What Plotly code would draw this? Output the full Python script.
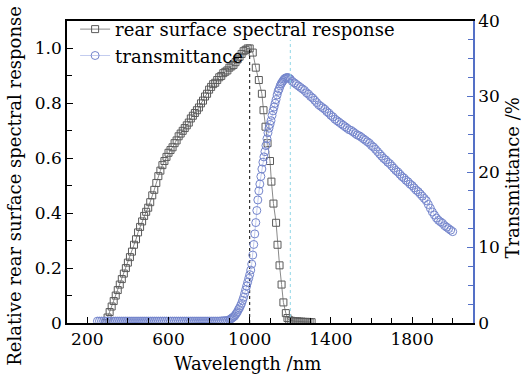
import plotly.graph_objects as go

# ---------------- data ----------------
resp_wl = [290, 300, 310, 320, 330, 340, 350, 360, 370, 380, 390, 400, 410, 420, 430, 440,
           450, 460, 470, 480, 490, 500, 510, 520, 530, 540, 550, 560, 570, 580, 590, 600,
           610, 620, 630, 640, 650, 660, 670, 680, 690, 700, 710, 720, 730, 740, 750, 760,
           770, 780, 790, 800, 810, 820, 830, 840, 850, 860, 870, 880, 890, 900, 910, 920,
           930, 940, 950, 960, 970, 980, 990, 1000,
           1015, 1030, 1045, 1060, 1068, 1078, 1088, 1100, 1107, 1117, 1130, 1137, 1147,
           1157, 1166, 1178, 1186,
           1195, 1205, 1215, 1225, 1235, 1245, 1255, 1265, 1275, 1285, 1295, 1305]
resp_val = [0.00, 0.02, 0.04, 0.06, 0.08, 0.10, 0.12, 0.14, 0.16, 0.18, 0.20, 0.22, 0.24, 0.26,
            0.285, 0.305, 0.33, 0.35, 0.37, 0.39, 0.405, 0.42, 0.44, 0.465, 0.485, 0.51, 0.535,
            0.555, 0.575, 0.59, 0.605, 0.62, 0.63, 0.64, 0.655, 0.665, 0.68, 0.69, 0.70, 0.71,
            0.72, 0.73, 0.745, 0.755, 0.765, 0.775, 0.785, 0.80, 0.81, 0.825, 0.835, 0.85,
            0.86, 0.87, 0.875, 0.885, 0.895, 0.90, 0.91, 0.915, 0.92, 0.93, 0.935, 0.94, 0.95,
            0.96, 0.97, 0.98, 0.99, 0.995, 1.00, 1.00,
            0.985, 0.93, 0.885, 0.835, 0.775, 0.715, 0.655, 0.59, 0.515, 0.435, 0.365, 0.285,
            0.21, 0.14, 0.075, 0.036, 0.018,
            0.010, 0.008, 0.007, 0.006, 0.006, 0.005, 0.005, 0.004, 0.004, 0.004, 0.003, 0.003]

trans_wl = [250, 260, 270, 280, 290, 300, 310, 320, 330, 340, 350, 360, 370, 380, 390, 400,
            410, 420, 430, 440, 450, 460, 470, 480, 490, 500, 510, 520, 530, 540, 550, 560,
            570, 580, 590, 600, 610, 620, 630, 640, 650, 660, 670, 680, 690, 700, 710, 720,
            730, 740, 750, 760, 770, 780, 790, 800, 810, 820, 830, 840, 850, 860, 870, 880, 890,
            900, 905, 910, 915, 920, 925, 930, 935, 940, 945, 950, 955, 960, 965, 970, 975,
            980, 985, 990, 995, 1000, 1005, 1010, 1015, 1020, 1025, 1030, 1035, 1040, 1045,
            1050, 1055, 1060, 1065, 1070, 1075, 1080, 1085, 1090, 1095, 1100, 1105, 1110,
            1115, 1120, 1125, 1130, 1135, 1140, 1145, 1150, 1155, 1160, 1165, 1170, 1175,
            1180, 1185, 1190, 1195, 1200,
            1210, 1220, 1230, 1240, 1250, 1260, 1270, 1280, 1290, 1300, 1310, 1320, 1330,
            1340, 1350, 1360, 1370, 1380, 1390, 1400, 1410, 1420, 1430, 1440, 1450, 1460,
            1470, 1480, 1490, 1500, 1510, 1520, 1530, 1540, 1550, 1560, 1570, 1580, 1590,
            1600, 1610, 1620, 1630, 1640, 1650, 1660, 1670, 1680, 1690, 1700, 1710, 1720,
            1730, 1740, 1750, 1760, 1770, 1780, 1790, 1800, 1810, 1820, 1830, 1840, 1850,
            1860, 1870, 1880, 1890, 1900, 1910, 1920, 1930, 1940, 1950, 1960, 1970, 1980,
            1990, 2000]
trans_val = [0.25, 0.25, 0.25, 0.25, 0.25, 0.25, 0.25, 0.25, 0.25, 0.25, 0.25, 0.25, 0.25,
             0.25, 0.25, 0.25, 0.25, 0.25, 0.25, 0.25, 0.25, 0.25, 0.25, 0.25, 0.25, 0.25,
             0.25, 0.25, 0.25, 0.25, 0.25, 0.25, 0.25, 0.25, 0.25, 0.25, 0.25, 0.25, 0.25,
             0.25, 0.25, 0.25, 0.25, 0.25, 0.25, 0.25, 0.25, 0.25, 0.25, 0.25, 0.25, 0.25,
             0.25, 0.25, 0.25, 0.25, 0.25, 0.25, 0.25, 0.25, 0.25, 0.28, 0.30, 0.32, 0.35,
             0.4, 0.5, 0.6, 0.7, 0.8, 0.9, 1.1, 1.3, 1.5, 1.8, 2.0, 2.3, 2.6, 3.0, 3.4, 3.9,
             4.4, 4.9, 5.4, 5.9, 6.4, 7.0, 7.8, 9.0, 10.4, 11.8, 13.3, 14.9, 16.3, 17.5,
             18.4, 19.4, 20.4, 21.3, 22.0, 22.7, 23.5, 24.4, 25.2, 25.8, 26.3, 26.8, 27.5,
             28.1, 28.6, 29.1, 29.6, 30.2, 30.7, 31.0, 31.4, 31.7, 31.9, 32.1, 32.3, 32.4,
             32.5, 32.5, 32.5, 32.4, 32.3,
             32.0, 31.8, 31.6, 31.4, 31.2, 31.0, 30.8, 30.5, 30.3, 30.0, 29.8, 29.5, 29.2,
             28.9, 28.7, 28.5, 28.3, 28.0, 27.8, 27.5, 27.3, 27.0, 26.8, 26.6, 26.4, 26.2,
             26.0, 25.8, 25.6, 25.5, 25.3, 25.1, 24.9, 24.8, 24.6, 24.4, 24.2, 24.0, 23.8,
             23.5, 23.3, 23.0, 22.7, 22.4, 22.1, 21.8, 21.6, 21.3, 21.1, 20.8, 20.5, 20.2,
             20.0, 19.7, 19.4, 19.2, 18.9, 18.7, 18.4, 18.2, 17.9, 17.6, 17.4, 17.1, 16.8,
             16.5, 16.2, 15.7, 15.2, 14.7, 14.3, 13.9, 13.6, 13.4, 13.2, 12.9, 12.7, 12.5,
             12.3, 12.1]

peak_wl = [1000, 1000]
peak_y = [0, 1.0]
trans_peak_wl = [1200, 1200]
trans_peak_y = [0, 37.5]

x_tickvals = [200, 600, 1000, 1400, 1800]
y_tickvals = [0, 0.2, 0.4, 0.6, 0.8, 1.0]
y_ticktext = ["0", "0.2", "0.4", "0.6", "0.8", "1.0"]
y2_tickvals = [0, 10, 20, 30, 40]

FONT = "DejaVu Serif"
BLUE_AXIS = "#5470c6"
CIRCLE = "#7485cc"
SQUARE = "#5a5a5a"

fig = go.Figure()

fig.add_trace(go.Scatter(
    x=resp_wl, y=resp_val, mode="lines+markers", name="rear surface spectral response",
    line=dict(color="#8a8a8a", width=1),
    marker=dict(symbol="square-open", size=7, color=SQUARE, line=dict(width=1)),
))
fig.add_trace(go.Scatter(
    x=trans_wl, y=trans_val, yaxis="y2", mode="lines+markers", name="transmittance",
    line=dict(color="#c3ccef", width=1),
    marker=dict(symbol="circle-open", size=8, color=CIRCLE, line=dict(width=1)),
))
fig.add_trace(go.Scatter(
    x=peak_wl, y=peak_y, mode="lines", showlegend=False,
    line=dict(color="black", width=1, dash="dot"),
))
fig.add_trace(go.Scatter(
    x=trans_peak_wl, y=trans_peak_y, yaxis="y2", mode="lines", showlegend=False,
    line=dict(color="#8fd6e6", width=1, dash="dot"),
))

fig.update_layout(
    width=523, height=378,
    margin=dict(l=67, r=50, t=20, b=55),
    paper_bgcolor="white", plot_bgcolor="white",
    font=dict(family=FONT, size=17, color="black"),
    showlegend=True,
    legend=dict(x=0.02, y=1.03, xanchor="left", yanchor="top",
                bgcolor="rgba(0,0,0,0)", font=dict(family=FONT, size=18),
                tracegroupgap=0, itemwidth=30),
    xaxis=dict(range=[100, 2100], tickvals=x_tickvals, ticks="inside", ticklen=6,
               tickcolor="black", showline=True, linecolor="black", linewidth=1.5,
               mirror=True, showgrid=False, zeroline=False,
               minor=dict(dtick=100, tick0=0, ticks="inside", ticklen=5, tickcolor="black"),
               tickfont=dict(family=FONT, size=17)),
    yaxis=dict(range=[0, 1.1], tickvals=y_tickvals, ticktext=y_ticktext, ticks="inside",
               ticklen=6, tickcolor="black", showline=True, linecolor="black", linewidth=1.5,
               showgrid=False, zeroline=False,
               minor=dict(dtick=0.1, tick0=0, ticks="inside", ticklen=5, tickcolor="black"),
               tickfont=dict(family=FONT, size=17)),
    yaxis2=dict(range=[0, 40], tickvals=y2_tickvals, overlaying="y", side="right",
                ticks="inside", ticklen=6, tickcolor=BLUE_AXIS, showline=True,
                linecolor=BLUE_AXIS, linewidth=1.5, showgrid=False, zeroline=False,
                minor=dict(dtick=2.5, tick0=0, ticks="inside", ticklen=5, tickcolor=BLUE_AXIS),
                tickfont=dict(family=FONT, size=17, color="black")),
    annotations=[
        dict(text="Wavelength /nm", xref="paper", yref="paper", x=0.445, y=-0.135,
             xanchor="center", yanchor="middle", showarrow=False,
             font=dict(family=FONT, size=18)),
        dict(text="Relative rear surface spectral response", xref="paper", yref="paper",
             x=-0.13, y=0.455, xanchor="center", yanchor="middle", textangle=-90,
             showarrow=False, font=dict(family=FONT, size=18)),
        dict(text="Transmittance /%", xref="paper", yref="paper", x=1.095, y=0.48,
             xanchor="center", yanchor="middle", textangle=-90, showarrow=False,
             font=dict(family=FONT, size=18)),
    ],
)

fig.write_html("out.html")
